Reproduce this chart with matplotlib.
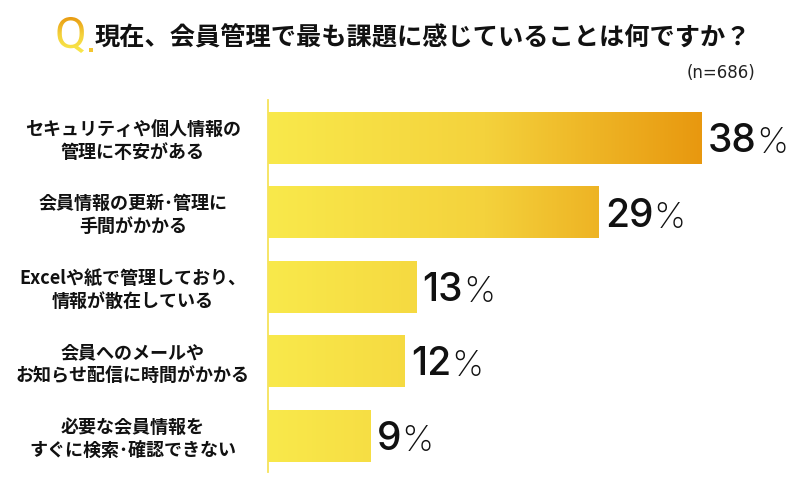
import numpy as np
import matplotlib
matplotlib.use("Agg")
import matplotlib.pyplot as plt
from matplotlib.colors import LinearSegmentedColormap
from matplotlib.textpath import TextPath
from matplotlib.font_manager import FontProperties
from matplotlib.patches import PathPatch, Rectangle
from matplotlib.path import Path

plt.rcParams['font.family'] = ['Noto Sans CJK JP', 'DejaVu Sans']

# data
title = "現在、会員管理で最も課題に感じていることは何ですか？"
sample = "(n=686)"
categories = [
    "セキュリティや個人情報の\n管理に不安がある",
    "会員情報の更新･管理に\n手間がかかる",
    "Excelや紙で管理しており、\n情報が散在している",
    "会員へのメールや\nお知らせ配信に時間がかかる",
    "必要な会員情報を\nすぐに検索･確認できない",
]
values = [38, 29, 13, 12, 9]

yellow = "#f9e94b"
orange = "#e8980f"
grad = LinearSegmentedColormap.from_list("yo", [yellow, "#f4d23c", orange])

fig = plt.figure(figsize=(8, 5), dpi=100)

# background overlay in pixel coords (title, Q mark)
bg = fig.add_axes([0, 0, 1, 1], zorder=0)
bg.set_xlim(0, 800)
bg.set_ylim(500, 0)
bg.axis("off")

# gradient "Q" mark
tp = TextPath((0, 0), "Q", size=1, prop=FontProperties(family="Roboto", weight="normal"))
verts = tp.vertices.copy()
x0, y0 = verts.min(axis=0)
x1, y1 = verts.max(axis=0)
verts[:, 0] = 55 + (verts[:, 0] - x0) / (x1 - x0) * 29
verts[:, 1] = 53 - (verts[:, 1] - y0) / (y1 - y0) * 36
qpatch = PathPatch(Path(verts, tp.codes), facecolor="none", edgecolor="none")
bg.add_patch(qpatch)
qgrad = np.linspace(1, 0, 100).reshape(-1, 1)
im = bg.imshow(qgrad, cmap=grad, extent=(54, 85, 54, 16), aspect="auto", vmin=0, vmax=1)
im.set_clip_path(qpatch)
bg.add_patch(Rectangle((88.5, 47.5), 4, 4, color="#f3c52f", lw=0))
bg.set_xlim(0, 800)
bg.set_ylim(500, 0)

bg.text(95, 38, title, fontsize=18.2, fontweight="bold", ha="left", va="center", color="#111111")
bg.text(755, 73, sample, fontsize=12, family="DejaVu Sans", ha="right", va="center", color="#222222")

# main bar axes
ax = fig.add_axes([268 / 800, 28 / 500, 532 / 800, 372 / 500], zorder=1)
ax.patch.set_alpha(0)
ax.set_xlim(0, 532 / 11.4)
ax.set_ylim(4.49, -0.51)
for s in ["top", "right", "bottom"]:
    ax.spines[s].set_visible(False)
ax.spines["left"].set_color("#f6e35a")
ax.spines["left"].set_linewidth(1.3)
ax.set_xticks([])
ax.set_yticks([])

ypos = np.arange(len(values))
bars = ax.barh(ypos, values, height=0.70, color="none", edgecolor="none")
xgrad = np.linspace(0, 1, 256).reshape(1, -1)
for b in bars:
    g = ax.imshow(xgrad, cmap=grad, extent=(0, max(values), 4.6, -0.6), aspect="auto",
                  vmin=0, vmax=1, zorder=2)
    g.set_clip_path(b)
ax.set_xlim(0, 532 / 11.4)
ax.set_ylim(4.49, -0.51)

for i, v in enumerate(values):
    num = ax.annotate(str(v), xy=(v, i), xytext=(4.5, -10.3), textcoords="offset points",
                      ha="left", va="baseline", fontsize=28, family="Inter", fontweight="medium",
                      color="#111111", annotation_clip=False, zorder=3)
    ax.annotate("%", xy=(1, 0), xycoords=num, xytext=(0, 0), textcoords="offset points",
                ha="left", va="bottom", fontsize=26, family="Inter", fontweight="light",
                color="#111111", annotation_clip=False, zorder=3)

for i, c in enumerate(categories):
    ax.text(-135 / 532, i + 0.04, c, transform=ax.get_yaxis_transform(), ha="center",
            va="center", fontsize=13, fontweight="bold", linespacing=1.25, color="#111111")

fig.savefig("out.png", dpi=100)
